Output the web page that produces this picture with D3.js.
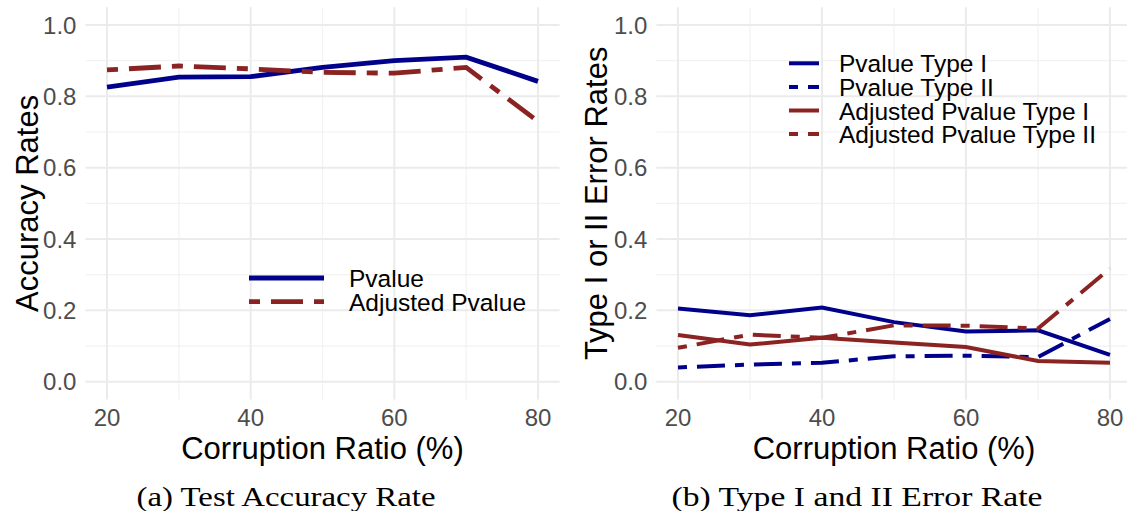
<!DOCTYPE html>
<html>
<head>
<meta charset="utf-8">
<script src="https://cdn.jsdelivr.net/npm/d3@7"></script>
<style>
  body { margin: 0; background: #fff; }
  svg { display: block; }
</style>
</head>
<body>
<script>
// corruption ratios (%) on the x axis
const ratios = [20, 30, 40, 50, 60, 70, 80];

// panel (a): test accuracy
const accPvalue   = [0.826, 0.854, 0.855, 0.881, 0.900, 0.910, 0.842];
const accAdjusted = [0.874, 0.885, 0.877, 0.867, 0.865, 0.881, 0.730];

// panel (b): type I / II error rates
const typeIPvalue    = [0.205, 0.186, 0.208, 0.167, 0.141, 0.144, 0.075];
const typeIIPvalue   = [0.040, 0.048, 0.053, 0.071, 0.073, 0.069, 0.176];
const typeIAdjusted  = [0.131, 0.104, 0.123, 0.110, 0.097, 0.058, 0.053];
const typeIIAdjusted = [0.095, 0.132, 0.123, 0.158, 0.157, 0.149, 0.317];

const xTicks = [20, 40, 60, 80];
const xMinor = [30, 50, 70];
const yTicks = [0, 0.2, 0.4, 0.6, 0.8, 1.0];
const yMinor = [0.1, 0.3, 0.5, 0.7, 0.9];

const blue = "#00008b";
const red = "#8b2323";

const width = 1127, height = 511;
const svg = d3.select("body").append("svg")
    .attr("width", width)
    .attr("height", height)
    .style("font-family", "'Liberation Sans', Arial, sans-serif");

function drawPanel(opt) {
    const x = d3.scaleLinear().domain([20, 80]).range([opt.x0, opt.x1]);
    const y = d3.scaleLinear().domain([0, 1]).range([381.7, 25]);
    const g = svg.append("g");
    const [px0, px1] = [x(17), x(83)];
    const [py0, py1] = [y(1.05), y(-0.05)];

    // minor grid
    g.selectAll(".vminor").data(xMinor).join("line")
        .attr("x1", d => x(d)).attr("x2", d => x(d))
        .attr("y1", py0).attr("y2", py1)
        .attr("stroke", "#f2f2f2").attr("stroke-width", 1.2);
    g.selectAll(".hminor").data(yMinor).join("line")
        .attr("x1", px0).attr("x2", px1)
        .attr("y1", d => y(d)).attr("y2", d => y(d))
        .attr("stroke", "#f2f2f2").attr("stroke-width", 1.2);
    // major grid
    g.selectAll(".vmajor").data(xTicks).join("line")
        .attr("x1", d => x(d)).attr("x2", d => x(d))
        .attr("y1", py0).attr("y2", py1)
        .attr("stroke", "#ebebeb").attr("stroke-width", 2);
    g.selectAll(".hmajor").data(yTicks).join("line")
        .attr("x1", px0).attr("x2", px1)
        .attr("y1", d => y(d)).attr("y2", d => y(d))
        .attr("stroke", "#ebebeb").attr("stroke-width", 2);

    // tick labels
    g.selectAll(".xt").data(xTicks).join("text")
        .attr("x", d => x(d)).attr("y", 426)
        .attr("text-anchor", "middle")
        .attr("font-size", 24).attr("fill", "#4d4d4d")
        .text(d => d);
    g.selectAll(".yt").data(yTicks).join("text")
        .attr("x", px0 - 9).attr("y", d => y(d) + 8.5)
        .attr("text-anchor", "end")
        .attr("font-size", 24).attr("fill", "#4d4d4d")
        .text(d => d3.format(".1f")(d));

    // axis titles
    g.append("text")
        .attr("x", (px0 + px1) / 2).attr("y", 459)
        .attr("text-anchor", "middle")
        .attr("font-size", 31).attr("fill", "#000")
        .text("Corruption Ratio (%)");
    g.append("text")
        .attr("transform", `translate(${opt.titleX},${(py0 + py1) / 2}) rotate(-90)`)
        .attr("text-anchor", "middle")
        .attr("font-size", 31).attr("fill", "#000")
        .text(opt.yTitle);

    // series
    const line = d3.line().x(d => x(d[0])).y(d => y(d[1]));
    opt.series.forEach(s => {
        g.append("path")
            .attr("d", line(ratios.map((r, i) => [r, s.values[i]])))
            .attr("fill", "none")
            .attr("stroke", s.color)
            .attr("stroke-width", opt.lw)
            .attr("stroke-dasharray", s.dash || null);
    });

    // legend
    opt.series.forEach((s, i) => {
        const ly = opt.legend.y0 + i * opt.legend.dy;
        g.append("line")
            .attr("x1", opt.legend.kx0).attr("x2", opt.legend.kx1)
            .attr("y1", ly).attr("y2", ly)
            .attr("stroke", s.color).attr("stroke-width", opt.lw)
            .attr("stroke-dasharray", s.dash || null);
        g.append("text")
            .attr("x", opt.legend.tx).attr("y", ly + 9)
            .attr("font-size", 24.5).attr("fill", "#000")
            .text(s.name);
    });

    // caption
    svg.append("text")
        .attr("x", opt.capX).attr("y", 506)
        .attr("text-anchor", "middle")
        .attr("font-family", "'Liberation Serif', 'DejaVu Serif', serif")
        .attr("font-size", 28)
        .attr("textLength", opt.capW)
        .attr("lengthAdjust", "spacingAndGlyphs")
        .text(opt.caption);
}

drawPanel({
    x0: 107, x1: 538, titleX: 38, lw: 4.8,
    yTitle: "Accuracy Rates",
    series: [
        { name: "Pvalue", values: accPvalue, color: blue },
        { name: "Adjusted Pvalue", values: accAdjusted, color: red, dash: "11 11 32 11" }
    ],
    legend: { y0: 278, dy: 23.7, kx0: 249, kx1: 324, tx: 349 },
    caption: "(a) Test Accuracy Rate", capX: 286, capW: 299
});

drawPanel({
    x0: 678, x1: 1110, titleX: 607, lw: 4,
    yTitle: "Type I or II Error Rates",
    series: [
        { name: "Pvalue Type I", values: typeIPvalue, color: blue },
        { name: "Pvalue Type II", values: typeIIPvalue, color: blue, dash: "9 10 28 10" },
        { name: "Adjusted Pvalue Type I", values: typeIAdjusted, color: red },
        { name: "Adjusted Pvalue Type II", values: typeIIAdjusted, color: red, dash: "9 10 28 10" }
    ],
    legend: { y0: 63.3, dy: 23.6, kx0: 789, kx1: 819, tx: 839 },
    caption: "(b) Type I and II Error Rate", capX: 857, capW: 371
});
</script>
</body>
</html>
